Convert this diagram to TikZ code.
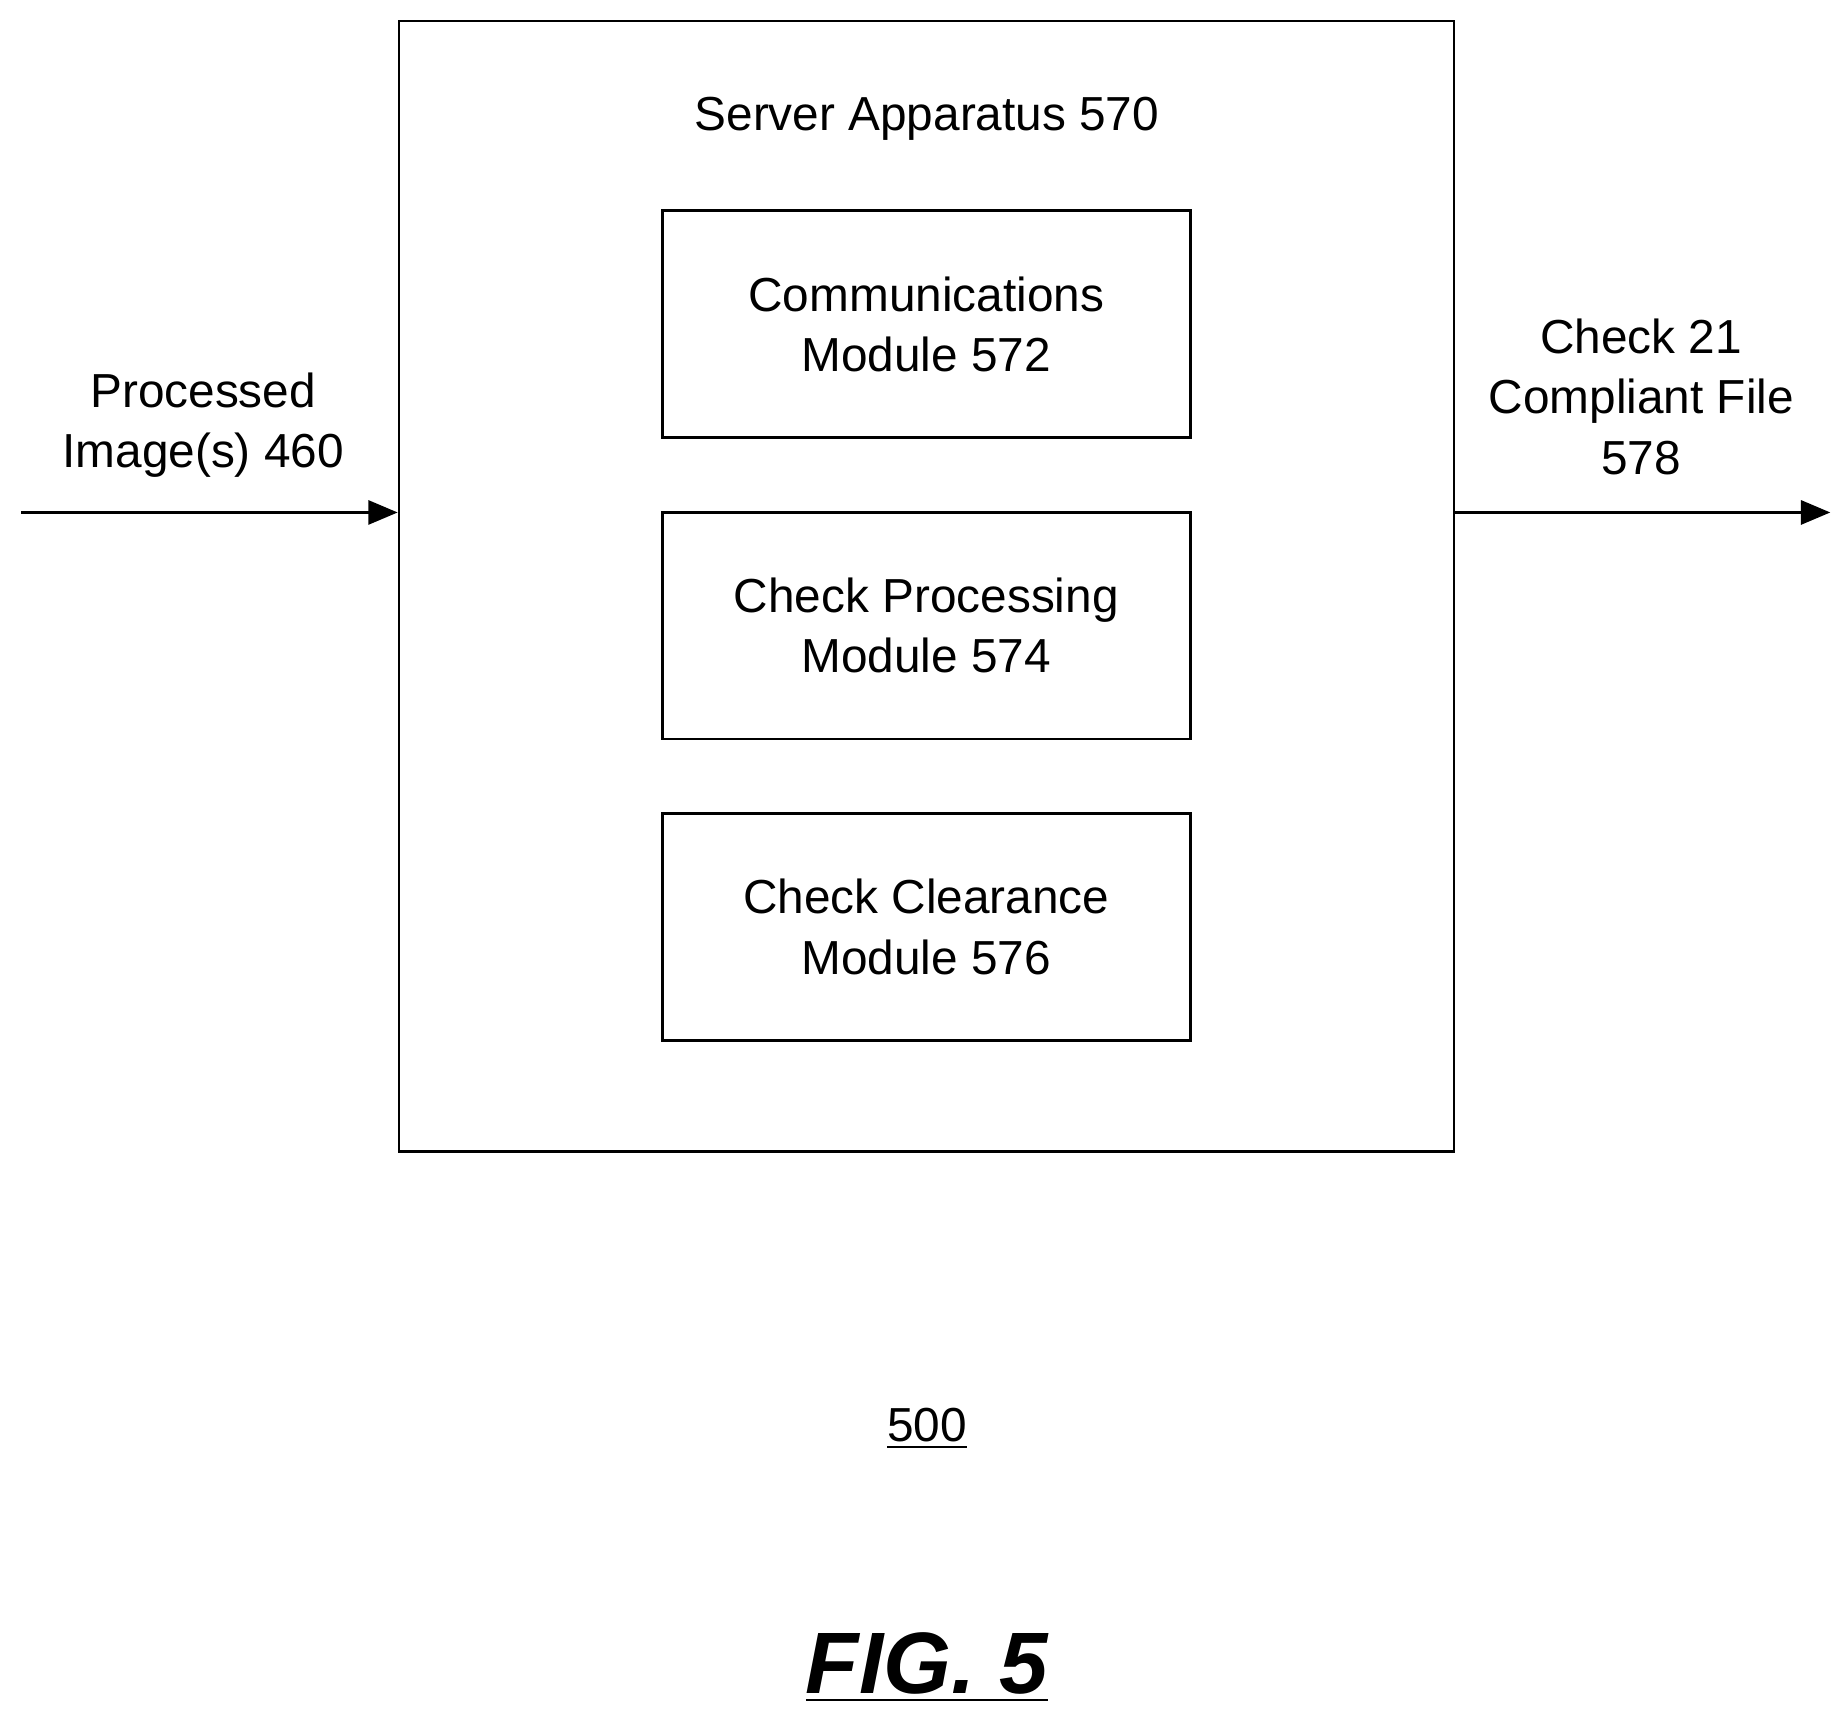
\documentclass[tikz,border=0pt]{standalone}
\usepackage{fontspec}
\setmainfont{Liberation Sans}
\usetikzlibrary{arrows,positioning}
\begin{document}
\begin{tikzpicture}[x=0.01cm,y=-0.01cm,>=triangle 45,semithick,
  font=\fontsize{11.5}{14.5}\selectfont]
  \tikzstyle{module}=[draw,minimum width=4.47cm,minimum height=1.92cm,align=center]
  \tikzstyle{label}=[align=center]
  \useasboundingbox (0,0) rectangle (1560,1454);

  \node[draw,minimum width=8.93cm,minimum height=9.57cm] (S) at (784.5,496.5) {};
  \node (T) at (785,101) {Server Apparatus 570};
  \node[module] (C) at (784.5,274.5) {Communications\\Module 572};
  \node[module] (P) at (784.5,530) {Check Processing\\Module 574};
  \node[module] (L) at (784.5,785) {Check Clearance\\Module 576};

  \coordinate (in) at (18,434);
  \coordinate (out) at (1550,434);
  \draw[->] (in) -- (in -| S.west);
  \draw[->] (out -| S.east) -- (out);
  \node[label] (I) at (172,360) {Processed\\Image(s) 460};
  \node[label] (F) at (1390,336) {Check 21\\Compliant File\\578};

  \node (N) at (785,1210) {\underline{500}};
  \node (G) at (785,1412) {\fontsize{21}{25}\selectfont\bfseries\itshape\underline{FIG. 5}};
\end{tikzpicture}
\end{document}
